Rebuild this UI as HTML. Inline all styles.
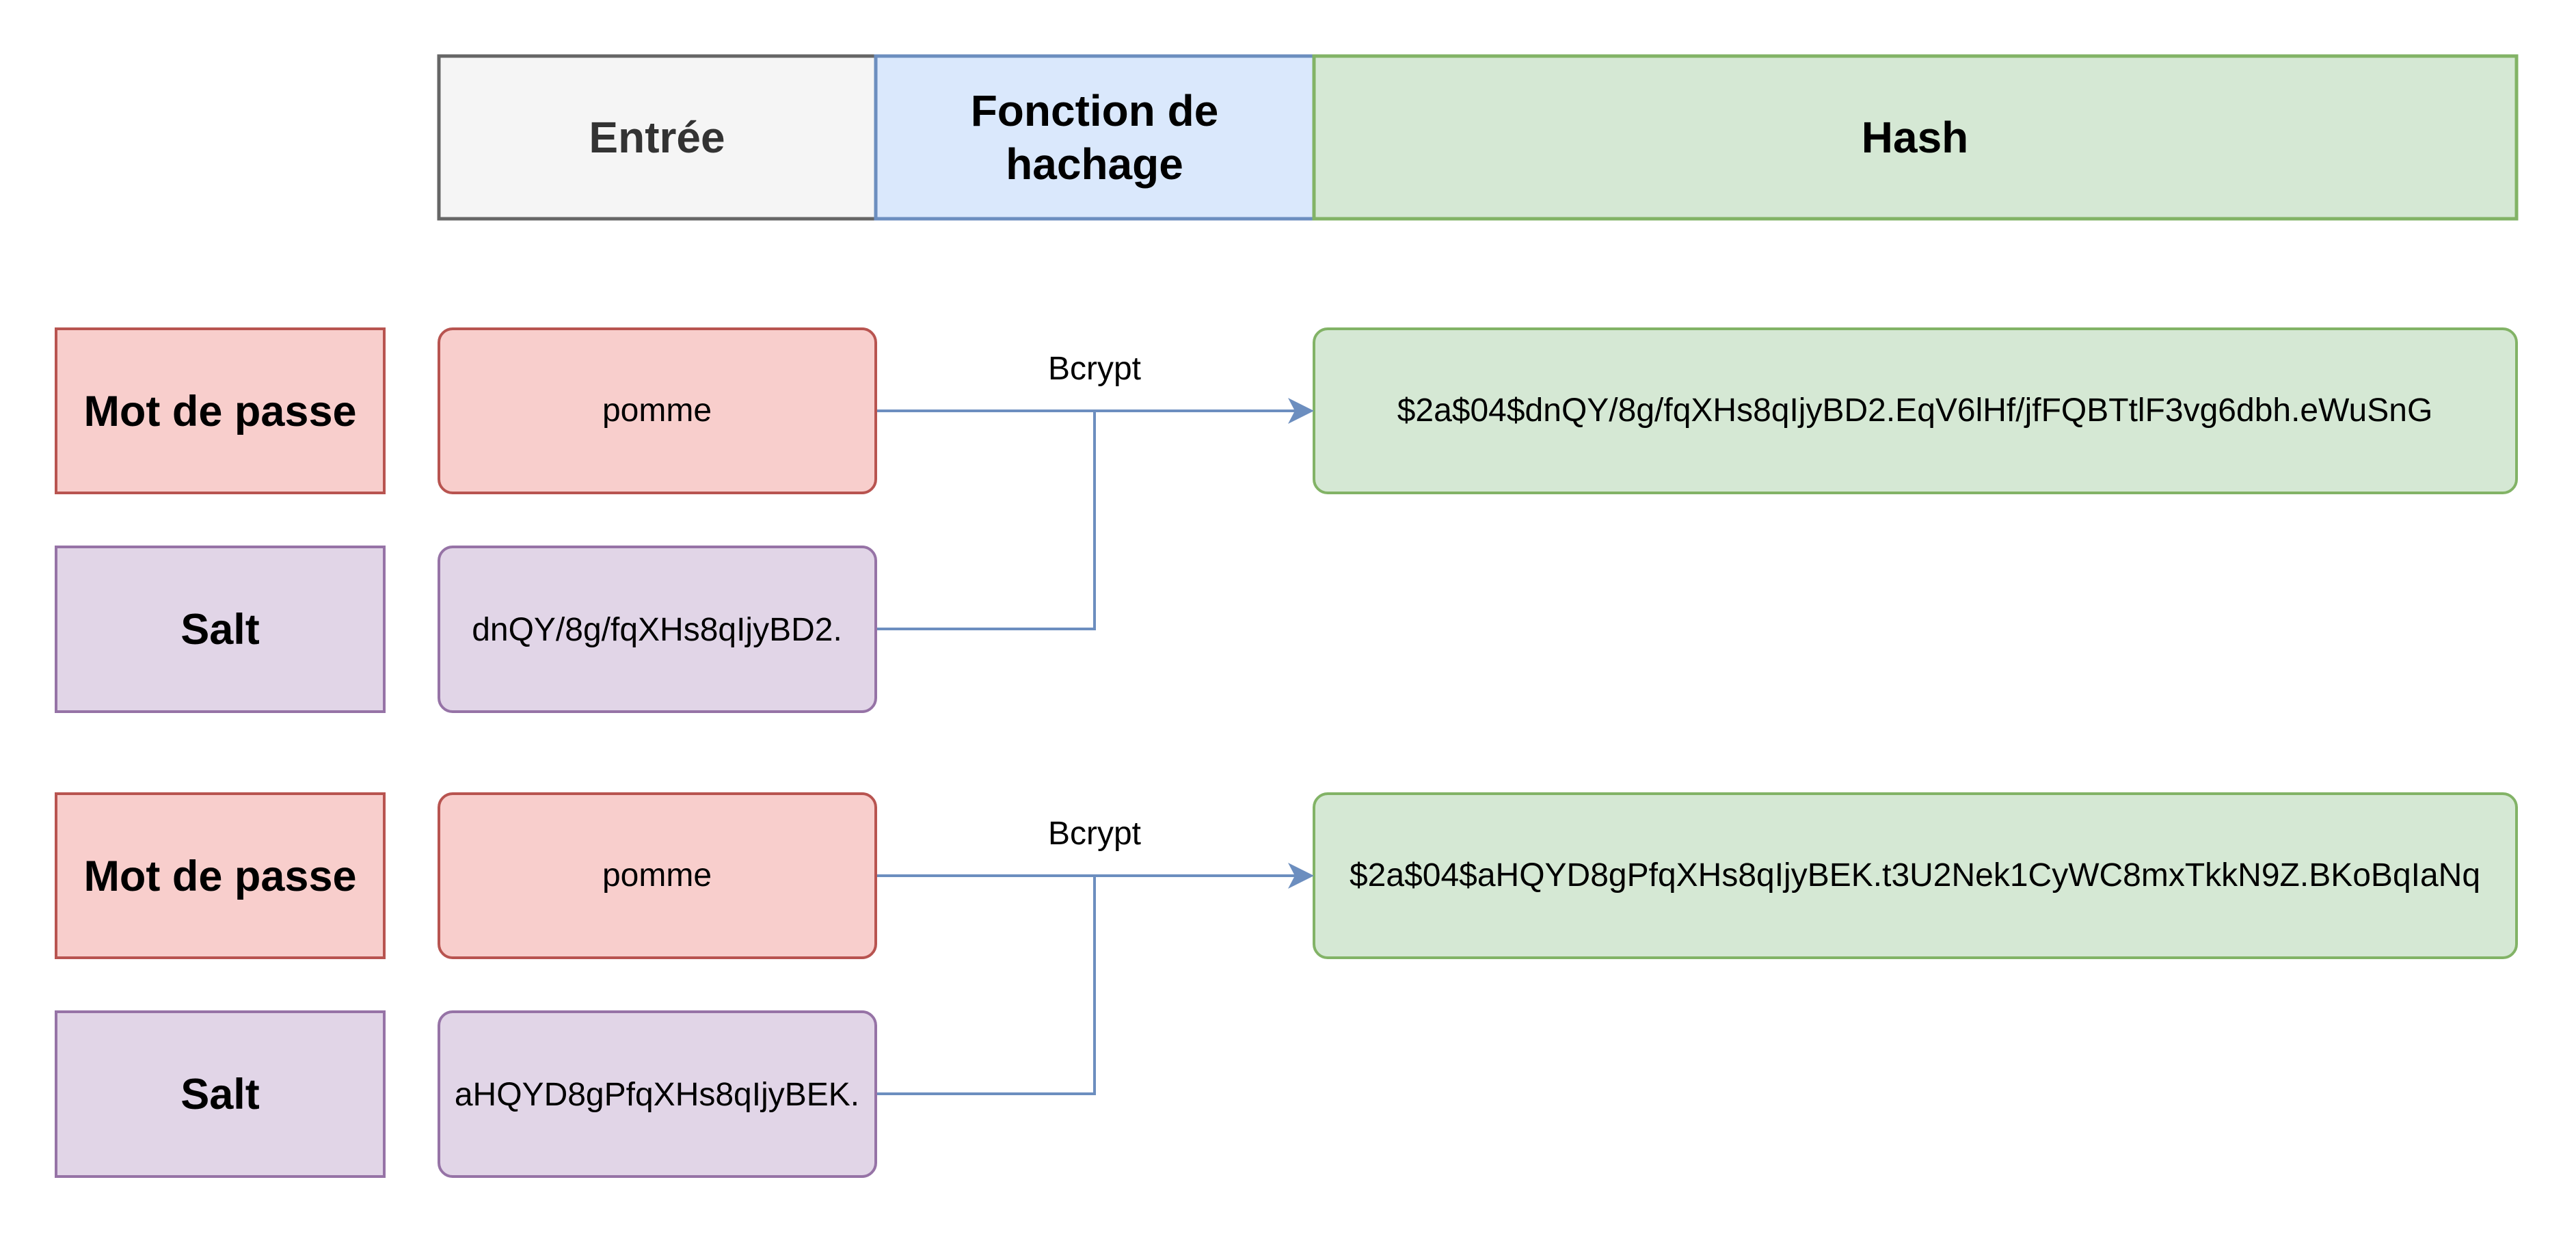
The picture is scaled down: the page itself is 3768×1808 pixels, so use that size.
<!DOCTYPE html>
<html><head><meta charset="utf-8"><style>html,body{margin:0;padding:0;background:#fff}svg{display:block}</style></head>
<body>
<svg width="3768" height="1808" viewBox="0 0 3768 1808" xmlns="http://www.w3.org/2000/svg" font-family="Liberation Sans, Arial, sans-serif">
<rect width="3768" height="1808" fill="#fff"/>
<rect x="642" y="82" width="639" height="238" fill="#f5f5f5" stroke="#666666" stroke-width="5"/>
<rect x="1281" y="82" width="641" height="238" fill="#dae8fc" stroke="#6c8ebf" stroke-width="5"/>
<rect x="1922" y="82" width="1759" height="238" fill="#d5e8d4" stroke="#82b366" stroke-width="5"/>
<g font-weight="bold" font-size="64" text-anchor="middle">
<text x="961" y="223" fill="#333333">Entrée</text>
<text x="1601" y="184" fill="#000">Fonction de</text>
<text x="1601" y="262" fill="#000">hachage</text>
<text x="2801" y="223" fill="#000">Hash</text>
</g>
<g stroke-width="4">
<rect x="82" y="481" width="480" height="240" fill="#f8cecc" stroke="#b85450"/>
<rect x="82" y="800" width="480" height="241" fill="#e1d5e7" stroke="#9673a6"/>
<rect x="82" y="1161" width="480" height="240" fill="#f8cecc" stroke="#b85450"/>
<rect x="82" y="1480" width="480" height="241" fill="#e1d5e7" stroke="#9673a6"/>
<rect x="642" y="481" width="639" height="240" rx="20" fill="#f8cecc" stroke="#b85450"/>
<rect x="642" y="800" width="639" height="241" rx="20" fill="#e1d5e7" stroke="#9673a6"/>
<rect x="642" y="1161" width="639" height="240" rx="20" fill="#f8cecc" stroke="#b85450"/>
<rect x="642" y="1480" width="639" height="241" rx="20" fill="#e1d5e7" stroke="#9673a6"/>
<rect x="1922" y="481" width="1759" height="240" rx="20" fill="#d5e8d4" stroke="#82b366"/>
<rect x="1922" y="1161" width="1759" height="240" rx="20" fill="#d5e8d4" stroke="#82b366"/>
</g>
<g font-weight="bold" font-size="63" text-anchor="middle" fill="#000">
<text x="322" y="623">Mot de passe</text>
<text x="322" y="942">Salt</text>
<text x="322" y="1303">Mot de passe</text>
<text x="322" y="1622">Salt</text>
</g>
<g font-size="48" text-anchor="middle" fill="#000">
<text x="961" y="616">pomme</text>
<text x="961" y="937">dnQY/8g/fqXHs8qIjyBD2.</text>
<text x="961" y="1296">pomme</text>
<text x="961" y="1617">aHQYD8gPfqXHs8qIjyBEK.</text>
<text x="2801" y="616">$2a$04$dnQY/8g/fqXHs8qIjyBD2.EqV6lHf/jfFQBTtlF3vg6dbh.eWuSnG</text>
<text x="2801" y="1296">$2a$04$aHQYD8gPfqXHs8qIjyBEK.t3U2Nek1CyWC8mxTkkN9Z.BKoBqIaNq</text>
<text x="1601" y="555">Bcrypt</text>
<text x="1601" y="1235">Bcrypt</text>
</g>
<g stroke="#6c8ebf" stroke-width="4" fill="none">
<path d="M1283 601 H1900"/>
<path d="M1283 920 H1601 V601"/>
<path d="M1283 1281 H1900"/>
<path d="M1283 1600 H1601 V1281"/>
</g>
<g fill="#6c8ebf">
<path d="M1922 601 L1884 582 L1894 601 L1884 620 Z"/>
<path d="M1922 1281 L1884 1262 L1894 1281 L1884 1300 Z"/>
</g>
</svg>
</body></html>
